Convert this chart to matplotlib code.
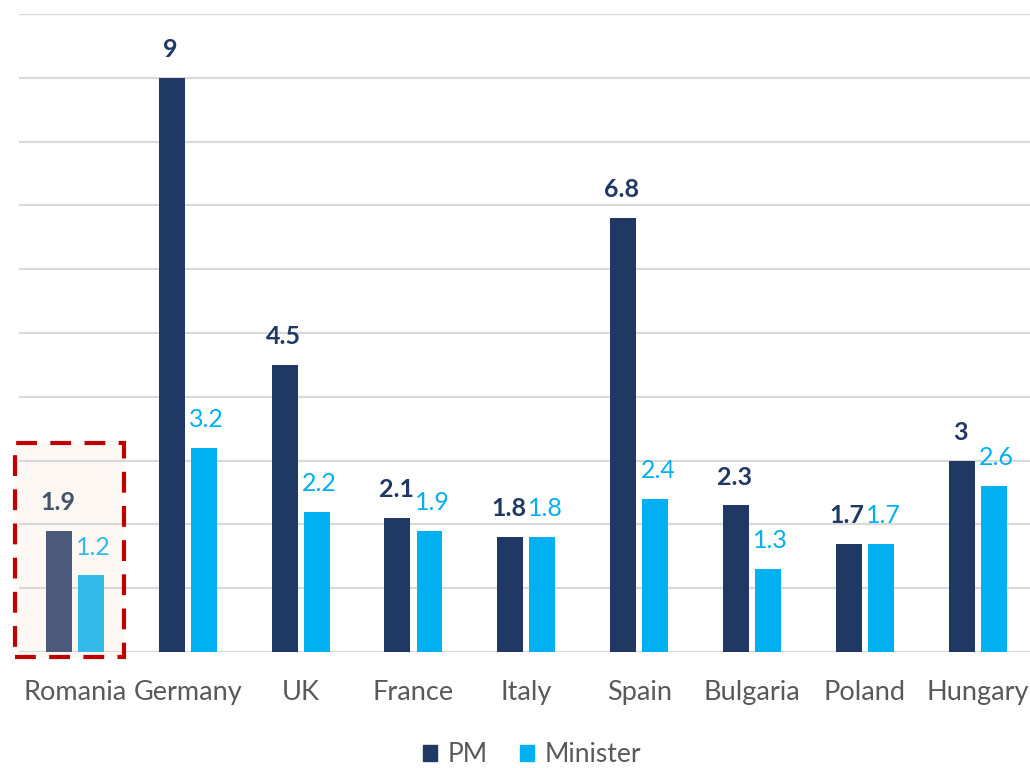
import matplotlib
matplotlib.use("Agg")
import matplotlib.pyplot as plt
from matplotlib.patches import Rectangle
import numpy as np

categories = ["Romania", "Germany", "UK", "France", "Italy", "Spain", "Bulgaria", "Poland", "Hungary"]
pm = [1.9, 9, 4.5, 2.1, 1.8, 6.8, 2.3, 1.7, 3]
minister = [1.2, 3.2, 2.2, 1.9, 1.8, 2.4, 1.3, 1.7, 2.6]
pm_labels = ["1.9", "9", "4.5", "2.1", "1.8", "6.8", "2.3", "1.7", "3"]
min_labels = ["1.2", "3.2", "2.2", "1.9", "1.8", "2.4", "1.3", "1.7", "2.6"]

PM_COLOR = "#203864"
MIN_COLOR = "#00B0F0"
PM_HL = "#4B5A7A"
MIN_HL = "#33BAE8"

plt.rcParams['font.family'] = ['Lato', 'DejaVu Sans']

fig = plt.figure(figsize=(10.3, 7.68), dpi=100)
ax = fig.add_axes([18.6/1030, (768-652)/768, (1034-18.6)/1030, (652-14)/768])

x = np.arange(len(categories))
w = 0.23
off = 0.142

pm_colors = [PM_HL if c == "Romania" else PM_COLOR for c in categories]
min_colors = [MIN_HL if c == "Romania" else MIN_COLOR for c in categories]

# highlight box
hl = categories.index("Romania")
ax.add_patch(Rectangle((hl - 0.53, -0.08), 0.96, 3.36, facecolor="#FDF8F3",
                       edgecolor="none", zorder=0.5, clip_on=False))
ax.add_patch(Rectangle((hl - 0.53, -0.08), 0.96, 3.36, facecolor="none",
                       edgecolor="#C00000", linewidth=3, linestyle=(0, (5, 3.2)),
                       zorder=5, clip_on=False))

b1 = ax.bar(x - off, pm, w, color=pm_colors, zorder=3, label="PM")
b2 = ax.bar(x + off, minister, w, color=min_colors, zorder=3, label="Minister")

for i in range(len(categories)):
    c1 = "#44546A" if categories[i] == "Romania" else PM_COLOR
    c2 = MIN_HL if categories[i] == "Romania" else MIN_COLOR
    ax.annotate(pm_labels[i], (x[i] - off, pm[i]), xytext=(-1, 12), textcoords="offset points",
                ha="center", va="bottom", fontsize=18, fontweight="bold", color=c1, zorder=6)
    ax.annotate(min_labels[i], (x[i] + off, minister[i]), xytext=(2, 12), textcoords="offset points",
                ha="center", va="bottom", fontsize=18, color=c2, zorder=6)

ax.set_xlim(-0.5, len(categories) - 0.5)
ax.set_ylim(0, 10)
ax.set_yticks(np.arange(0, 11, 1))
ax.set_yticklabels([])
ax.tick_params(axis="y", length=0)
ax.grid(axis="y", color="#D9D9D9", linewidth=1.6, zorder=0)
ax.set_axisbelow(True)
ax.set_xticks(x)
ax.set_xticklabels(categories, fontsize=19.5, color="#595959")
ax.tick_params(axis="x", length=0, pad=20)
for s in ax.spines.values():
    s.set_visible(False)
ax.set_facecolor("none")

h1 = Rectangle((0, 0), 1, 1, color=PM_COLOR)
h2 = Rectangle((0, 0), 1, 1, color=MIN_COLOR)
fig.legend([h1, h2], ["PM", "Minister"], loc="center", bbox_to_anchor=(532/1030, 1 - 755/768),
           ncol=2, frameon=False, fontsize=19, handlelength=0.55, handleheight=0.55,
           handletextpad=0.4, columnspacing=1.2, labelcolor="#595959")

fig.savefig("out.png", dpi=100)
